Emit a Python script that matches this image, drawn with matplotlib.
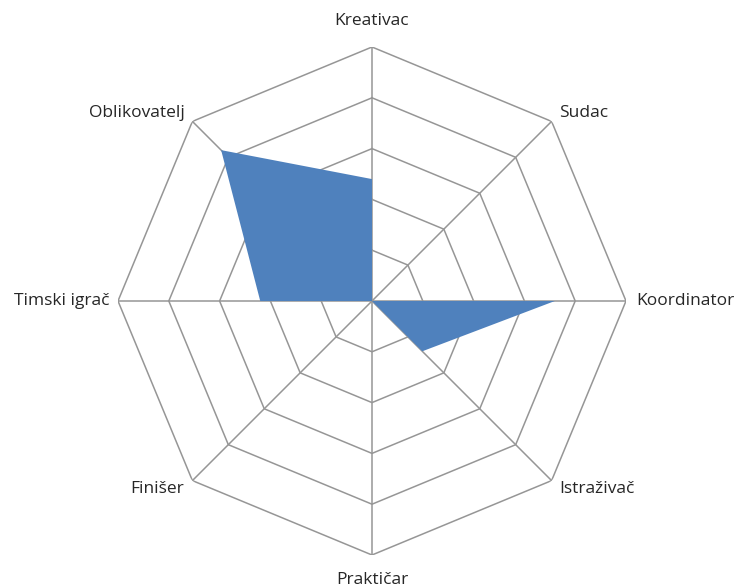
import numpy as np
import matplotlib
matplotlib.use("Agg")
import matplotlib.pyplot as plt

categories = ["Kreativac", "Sudac", "Koordinator", "Istraživač", "Praktičar",
              "Finišer", "Timski igrač", "Oblikovatelj"]
values = [12, 0, 18, 7, 0, 0, 11, 21]
rings = [5, 10, 15, 20, 25]
rmax = 25

plt.rcParams['font.family'] = ['Open Sans', 'DejaVu Sans']

fig = plt.figure(figsize=(7.35, 5.88), dpi=100)
cx, cy, R = 372 / 735, 1 - 301 / 588, 254
ax = fig.add_axes([cx - R / 735, cy - R / 588, 2 * R / 735, 2 * R / 588], projection='polar')
ax.set_theta_zero_location('N')
ax.set_theta_direction(-1)
ax.set_ylim(0, rmax)
ax.axis('off')

n = len(categories)
theta = np.arange(n) * 2 * np.pi / n
grid_c = '#969696'
for r in rings:
    ax.plot(np.append(theta, theta[0]), [r] * (n + 1), color=grid_c, lw=1.1, zorder=1)
for t in theta:
    ax.plot([t, t], [0, rmax], color=grid_c, lw=1.1, zorder=1)

ax.fill(theta, values, color='#4F81BD', lw=0, zorder=2)

# labels: (radius, ha, va)
lab = {
    "Kreativac": (27.6, 'center', 'center'),
    "Sudac": (26.1, 'left', 'center'),
    "Koordinator": (26.0, 'left', 'center'),
    "Istraživač": (26.1, 'left', 'center'),
    "Praktičar": (27.5, 'center', 'center'),
    "Finišer": (26.1, 'right', 'center'),
    "Timski igrač": (25.8, 'right', 'center'),
    "Oblikovatelj": (26.1, 'right', 'center'),
}
for t, c in zip(theta, categories):
    r, ha, va = lab[c]
    ax.text(t, r, c, ha=ha, va=va, fontsize=12.5, color='#262626', clip_on=False)

fig.savefig("out.png", dpi=100)
